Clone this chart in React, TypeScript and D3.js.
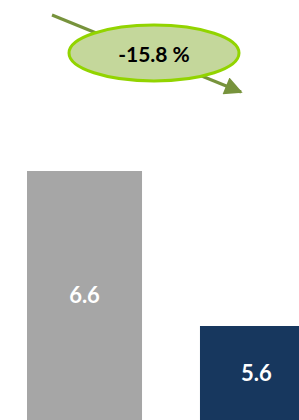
import React, { useEffect, useRef } from 'react';
import * as d3 from 'd3';

// chart data
const categories = ['Before', 'After'];
const values = [6.6, 5.6];
const barColors = ['#a6a6a6', '#17375e'];
const changeLabel = '-15.8 %';

const App: React.FC = () => {
  const svgRef = useRef<SVGSVGElement>(null);

  useEffect(() => {
    if (!svgRef.current) return;
    const width = 299;
    const height = 420;

    const svg = d3.select(svgRef.current);
    svg.selectAll('*').remove();
    svg.attr('width', width).attr('height', height);

    // Scales (axis starts far below the visible area, so bars are cropped)
    const xScale = d3.scaleBand<string>()
      .domain(categories)
      .range([27, 315])
      .paddingInner(0.335)
      .paddingOuter(0);

    const yScale = d3.scaleLinear()
      .domain([0, 6.6])
      .range([1194, 171]);

    const bars = svg.selectAll('.bar')
      .data(values)
      .enter()
      .append('g')
      .attr('class', 'bar');

    bars.append('rect')
      .attr('x', (d, i) => xScale(categories[i]) || 0)
      .attr('width', xScale.bandwidth())
      .attr('y', d => yScale(d))
      .attr('height', d => yScale(0) - yScale(d))
      .attr('fill', (d, i) => barColors[i]);

    // labels centred in the visible part of each bar
    bars.append('text')
      .attr('x', (d, i) => (xScale(categories[i]) || 0) + xScale.bandwidth() / 2 - (i === 1 ? 1 : 0))
      .attr('y', d => (yScale(d) + height) / 2)
      .attr('dy', '0.36em')
      .attr('text-anchor', 'middle')
      .style('font-family', 'Lato, "DejaVu Sans", sans-serif')
      .style('font-weight', 'bold')
      .style('font-size', '22px')
      .style('fill', '#ffffff')
      .text(d => d.toFixed(1));

    // Trend arrow
    const defs = svg.append('defs');
    defs.append('marker')
      .attr('id', 'arrow')
      .attr('viewBox', '0 0 10 10')
      .attr('refX', 9)
      .attr('refY', 5)
      .attr('markerWidth', 7)
      .attr('markerHeight', 6)
      .attr('markerUnits', 'strokeWidth')
      .attr('orient', 'auto')
      .append('path')
      .attr('d', 'M0,0 L10,5 L0,10 Z')
      .attr('fill', '#77933c');

    svg.append('line')
      .attr('x1', 52)
      .attr('y1', 15)
      .attr('x2', 241)
      .attr('y2', 92)
      .attr('stroke', '#77933c')
      .attr('stroke-width', 3)
      .attr('marker-end', 'url(#arrow)');

    svg.append('ellipse')
      .attr('cx', 154)
      .attr('cy', 53)
      .attr('rx', 85)
      .attr('ry', 28)
      .attr('fill', '#c4d79b')
      .attr('stroke', '#92d400')
      .attr('stroke-width', 3);

    svg.append('text')
      .attr('x', 154)
      .attr('y', 54)
      .attr('dy', '0.36em')
      .attr('text-anchor', 'middle')
      .style('font-family', 'Lato, "DejaVu Sans", sans-serif')
      .style('font-weight', 'bold')
      .style('font-size', '21px')
      .style('fill', '#000000')
      .text(changeLabel);
  }, []);

  return (
    <div style={{ position: 'fixed', top: 0, left: 0, width: 299, height: 420, background: '#fff', overflow: 'hidden' }}>
      <svg ref={svgRef} style={{ display: 'block' }}></svg>
    </div>
  );
};

export default App;
